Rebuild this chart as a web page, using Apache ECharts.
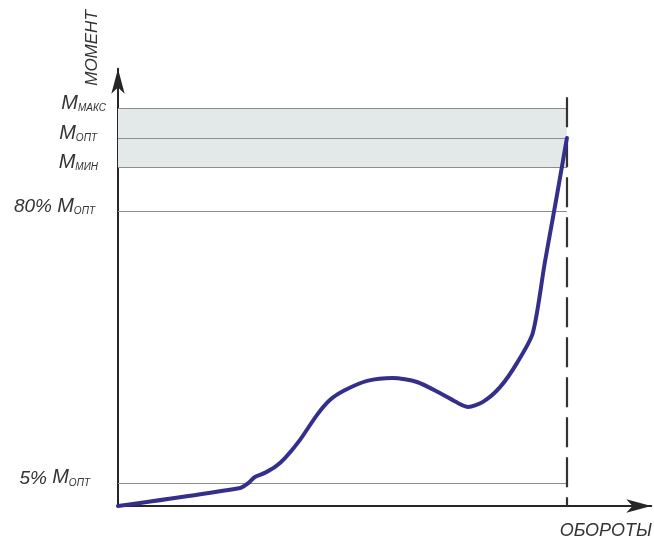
<!DOCTYPE html>
<html>
<head>
<meta charset="utf-8">
<script src="https://cdn.jsdelivr.net/npm/echarts@6/dist/echarts.min.js"></script>
<style>html,body{margin:0;padding:0;background:#fff}#c{width:654px;height:540px}</style>
</head>
<body>
<div id="c"></div>
<script>
// Torque curve: x = engine speed (% of optimal point), y = torque (% of M_опт)
var rpm =    [0, 27.2, 29.0, 30.5, 32.7, 35.0, 37.2, 40.5, 44.3, 47.2, 50.6, 55.5, 61.2, 66.6, 71.7, 75.7, 78.0, 81.3, 85.1, 88.9, 92.4, 95.1, 97.6, 100];
var torque = [0, 4.9, 6.2, 7.9, 9.0, 10.6, 13.0, 17.9, 24.7, 28.8, 31.5, 34.0, 34.8, 33.7, 30.7, 28.0, 26.9, 28.3, 32.3, 38.9, 47.0, 66.3, 83.2, 100];

// Reference torque levels and their labels
var levelValues = [6.3, 80, 92, 100, 108];
var levelPrefix = ['5% ', '80% ', '', '', ''];
var levelMain = ['M', 'M', 'M', 'M', 'M'];
var levelSub = ['ОПТ', 'ОПТ', 'МИН', 'ОПТ', 'МАКС'];

var bandMin = 92, bandMax = 108;
var rpmLimit = 100;
var dashTop = 111.1;

var xName = 'ОБОРОТЫ';
var yName = 'МОМЕНТ';

// style-only: extra right padding of each label
var labelPad = [16, 11, 8, 9, 0];

var FONT = '"Liberation Sans", Arial, sans-serif';
var rich = {};
levelValues.forEach(function (v, i) {
  rich['p' + i] = {fontSize: 19, fontStyle: 'italic', fontFamily: FONT, color: '#333', verticalAlign: 'bottom'};
  rich['m' + i] = {fontSize: 20, fontStyle: 'italic', fontFamily: FONT, color: '#333', verticalAlign: 'bottom'};
  rich['s' + i] = {fontSize: 10, fontStyle: 'italic', fontFamily: FONT, color: '#333', verticalAlign: 'bottom', padding: [0, labelPad[i], 0, 0]};
});

var data = rpm.map(function (x, i) { return [x, torque[i]]; });

var hLines = levelValues.map(function (v) {
  return [{coord: [0, v]}, {coord: [rpmLimit, v]}];
});

var chart = echarts.init(document.getElementById('c'), null, {renderer: 'canvas'});
chart.setOption({
  animation: false,
  grid: {left: 118, top: 68.8, right: 2.7, bottom: 34},
  xAxis: {
    type: 'value', min: 0, max: 118.8,
    axisLine: {show: true, onZero: false, symbol: ['none', 'arrow'], symbolSize: [10, 25],
      lineStyle: {color: '#262626', width: 2}},
    axisTick: {show: false}, axisLabel: {show: false}, splitLine: {show: false}
  },
  yAxis: {
    type: 'value', min: 0, max: 118.8,
    axisLine: {show: true, onZero: false, symbol: ['none', 'arrow'], symbolSize: [10, 25],
      lineStyle: {color: '#262626', width: 2}},
    axisTick: {show: false},
    splitLine: {show: false},
    axisLabel: {
      show: true,
      customValues: levelValues,
      margin: 12,
      align: 'right',
      verticalAlign: 'bottom',
      padding: [0, 0, -5, 0],
      formatter: function (val) {
        var i = levelValues.indexOf(val);
        if (i < 0) return '';
        var s = '';
        if (levelPrefix[i]) s += '{p' + i + '|' + levelPrefix[i] + '}';
        s += '{m' + i + '|' + levelMain[i] + '}{s' + i + '|' + levelSub[i] + '}';
        return s;
      },
      rich: rich
    }
  },
  graphic: [
    {type: 'text', x: 92, y: 48, rotation: Math.PI / 2,
      style: {text: yName, font: 'italic 17px ' + FONT, fill: '#333', textAlign: 'center', textVerticalAlign: 'middle'}},
    {type: 'text', x: 652, y: 531,
      style: {text: xName, font: 'italic 18px ' + FONT, fill: '#333', textAlign: 'right', textVerticalAlign: 'middle'}}
  ],
  series: [
    {
      type: 'line',
      data: data,
      smooth: 0.25,
      showSymbol: false,
      symbol: 'none',
      z: 5,
      lineStyle: {color: '#352f8c', width: 4, cap: 'round', join: 'round'},
      markArea: {
        silent: true,
        itemStyle: {color: '#e3e8e8'},
        data: [[{coord: [0, bandMin]}, {coord: [rpmLimit, bandMax]}]]
      },
      markLine: {
        silent: true,
        symbol: ['none', 'none'],
        label: {show: false},
        lineStyle: {color: '#8c8c8c', width: 1.2, type: 'solid'},
        data: hLines.concat([
          [{coord: [rpmLimit, dashTop], lineStyle: {color: '#333', width: 2.2, type: [30, 10]}},
           {coord: [rpmLimit, 0]}]
        ])
      }
    }
  ]
});
</script>
</body>
</html>
